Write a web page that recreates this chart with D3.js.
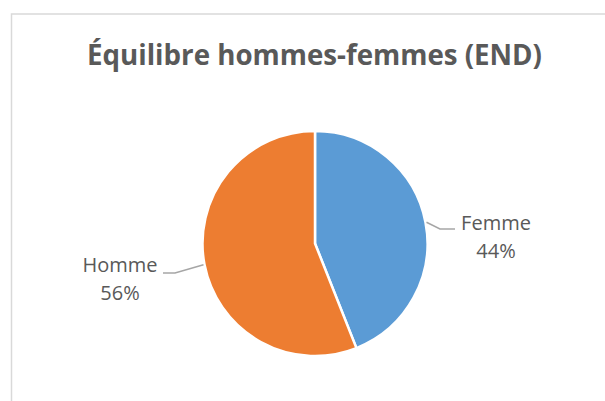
<!DOCTYPE html>
<html lang="fr">
  <head>
    <meta charset="utf-8">
    <title>Équilibre hommes-femmes (END)</title>
    <script src="https://cdn.jsdelivr.net/npm/d3@7"></script>
    <style>
      body { margin: 0; background: #fff; }
      .frame { fill: none; stroke: #d9d9d9; stroke-width: 1.5; }
      .title { font-family: "Open Sans", sans-serif; font-weight: bold; fill: #595959; }
      .label { font-family: "Open Sans", sans-serif; fill: #595959; }
      .leader { fill: none; stroke: #a6a6a6; stroke-width: 1.5; }
      .slice { stroke: #fff; stroke-width: 2.5; }
    </style>
  </head>
  <body>
    <script>
      var categories = ["Femme", "Homme"];
      var values = [44, 56];
      var colors = ["#5b9bd5", "#ed7d31"];
      var titleText = "Équilibre hommes-femmes (END)";

      var w = 605, h = 401;
      var cx = 315, cy = 243.5, r = 112.5;

      // where each label sits relative to the pie centre (layout only)
      var labelOffsets = [
        {elbow: [125, -14.5], end: [140, -14.5], text: [181, -13.5]},
        {elbow: [-140, 29.5], end: [-152, 29.5], text: [-195, 28.5]}
      ];

      var svg = d3.select("body")
                  .append("svg")
                  .attr("width", w)
                  .attr("height", h);

      svg.append("rect")
         .attr("class", "frame")
         .attr("x", 11.5)
         .attr("y", 14)
         .attr("width", w + 20)
         .attr("height", h + 20);

      var title = svg.append("text")
         .attr("class", "title")
         .attr("x", 314.5)
         .attr("y", 65)
         .attr("text-anchor", "middle")
         .style("font-size", "29px")
         .text(titleText);
      var tl = title.node().getComputedTextLength();
      if (Math.abs(tl - 455) > 2) {
        title.attr("textLength", 455).attr("lengthAdjust", "spacingAndGlyphs");
      }

      var data = categories.map(function (c, i) {
        return {name: c, value: values[i], color: colors[i], off: labelOffsets[i]};
      });

      var pie = d3.pie()
                  .sort(null)
                  .value(function (d) { return d.value; });

      var arc = d3.arc()
                  .innerRadius(0)
                  .outerRadius(r);

      var arcs = pie(data);
      var total = d3.sum(values);

      var g = svg.append("g")
                 .attr("transform", "translate(" + cx + "," + cy + ")");

      g.selectAll("path.slice")
       .data(arcs)
       .enter()
       .append("path")
       .attr("class", "slice")
       .attr("fill", function (d) { return d.data.color; })
       .attr("d", arc);

      g.selectAll("path.leader")
       .data(arcs)
       .enter()
       .append("path")
       .attr("class", "leader")
       .attr("d", function (d) {
         var a = (d.startAngle + d.endAngle) / 2;
         var p0 = [Math.sin(a) * (r + 1), -Math.cos(a) * (r + 1)];
         return d3.line()([p0, d.data.off.elbow, d.data.off.end]);
       });

      var labels = g.selectAll("text.label")
       .data(arcs)
       .enter()
       .append("text")
       .attr("class", "label")
       .attr("text-anchor", "middle")
       .style("font-size", "20px")
       .attr("x", function (d) { return d.data.off.text[0]; })
       .attr("y", function (d) { return d.data.off.text[1]; });

      labels.append("tspan")
            .attr("x", function (d) { return d.data.off.text[0]; })
            .text(function (d) { return d.data.name; });

      labels.append("tspan")
            .attr("x", function (d) { return d.data.off.text[0]; })
            .attr("dy", 28)
            .text(function (d) { return Math.round(d.data.value / total * 100) + "%"; });
    </script>
  </body>
</html>
